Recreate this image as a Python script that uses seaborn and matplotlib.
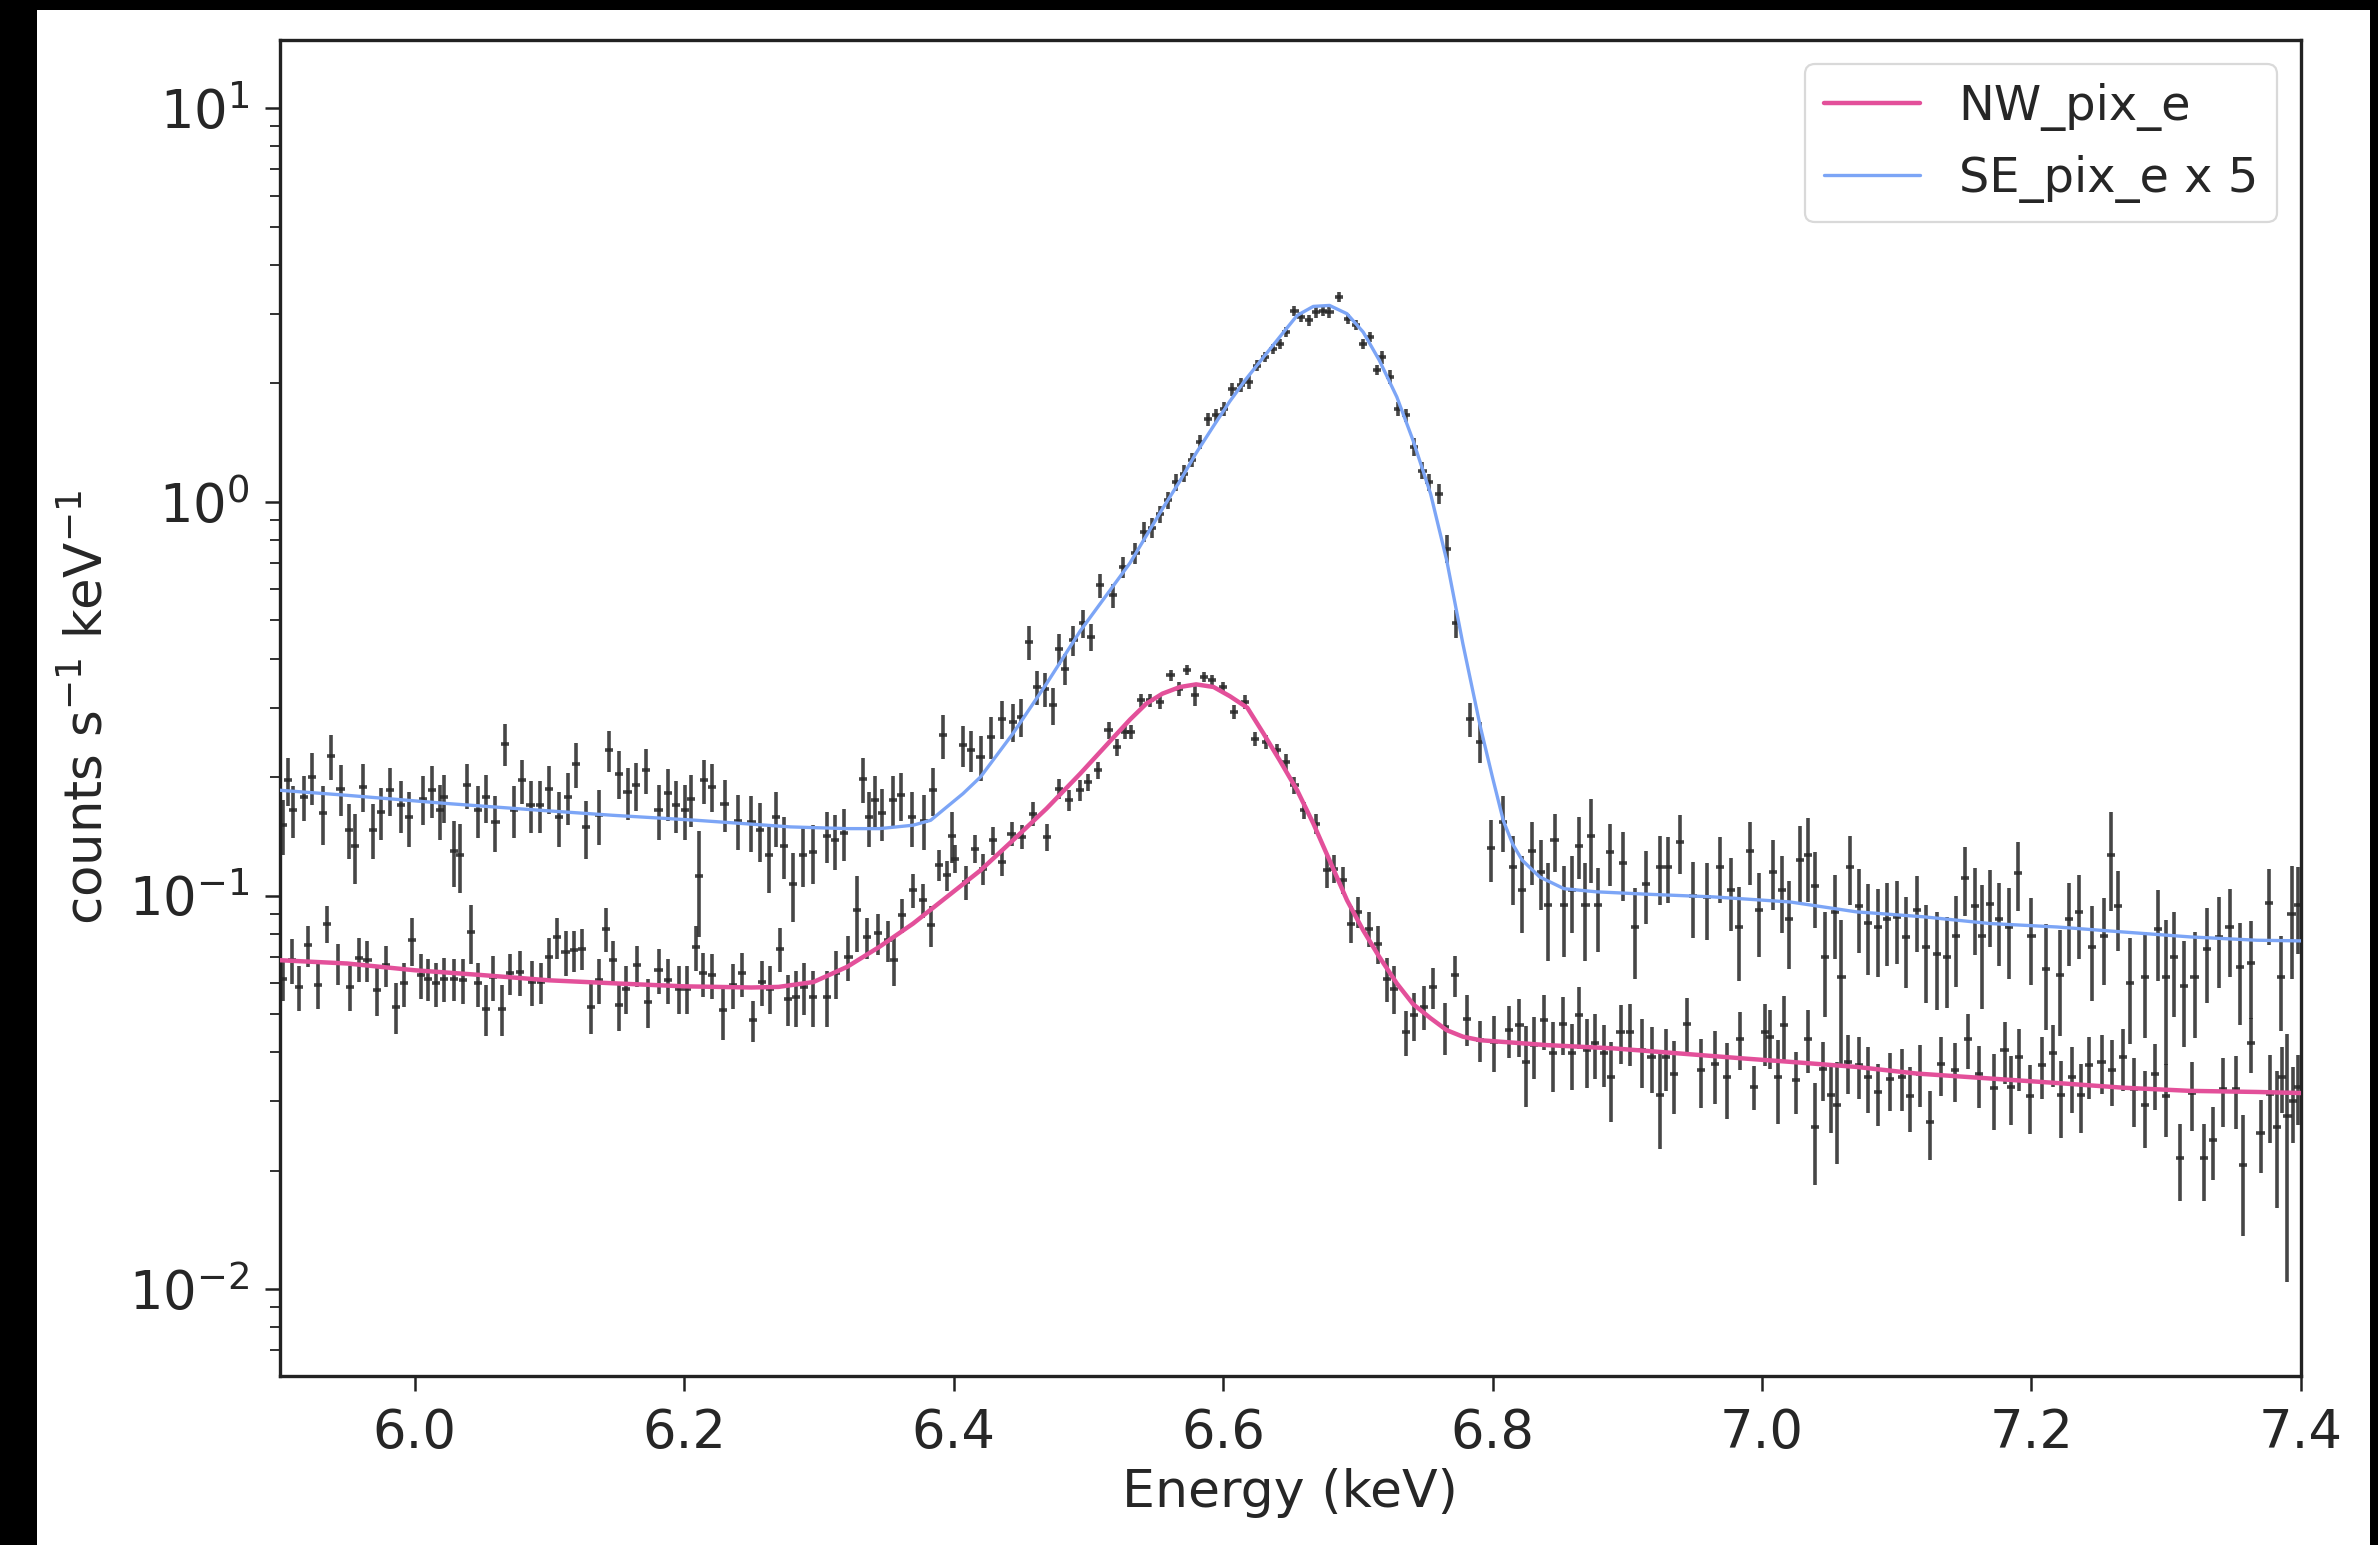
import numpy as np
import pandas as pd
import seaborn as sns
import matplotlib.pyplot as plt
from matplotlib.patches import Rectangle

# ---- data ----
LABEL_NW = "NW_pix_e"
LABEL_SE = "SE_pix_e x 5"
BIN_HALF = 0.003  # keV, half width of a spectral bin

se_energy = [
    5.902, 5.906, 5.910, 5.918, 5.924, 5.932, 5.938, 5.945, 5.951, 5.956,
    5.962, 5.969, 5.975, 5.982, 5.990, 5.996, 6.006, 6.013, 6.019, 6.022,
    6.029, 6.034, 6.039, 6.047, 6.053, 6.060, 6.067, 6.074, 6.080, 6.086,
    6.093, 6.100, 6.107, 6.114, 6.120, 6.127, 6.137, 6.144, 6.152, 6.158,
    6.164, 6.172, 6.181, 6.188, 6.194, 6.201, 6.205, 6.211, 6.215, 6.221,
    6.230, 6.240, 6.250, 6.256, 6.263, 6.268, 6.274,
    6.281, 6.288, 6.296, 6.306, 6.312, 6.319, 6.328, 6.333, 6.337, 6.342,
    6.347, 6.355, 6.361, 6.369, 6.378, 6.385, 6.392, 6.399, 6.407, 6.413,
    6.420, 6.428, 6.436, 6.444, 6.450, 6.456, 6.462, 6.468, 6.474, 6.478,
    6.483, 6.489, 6.496, 6.502, 6.509, 6.518, 6.526,
    6.535, 6.541, 6.547, 6.553, 6.559, 6.565, 6.571, 6.577, 6.583, 6.589,
    6.595, 6.601, 6.607, 6.613, 6.619, 6.625, 6.631, 6.637,
    6.642, 6.647, 6.653, 6.658, 6.664, 6.669, 6.674, 6.679, 6.686, 6.693,
    6.699, 6.704, 6.709, 6.714, 6.718, 6.724, 6.730, 6.736, 6.742, 6.748,
    6.753, 6.760, 6.766, 6.773, 6.783, 6.791,
    6.799, 6.808, 6.815, 6.822, 6.829, 6.836, 6.841, 6.846, 6.853, 6.859,
    6.864, 6.869, 6.873, 6.878, 6.887, 6.897, 6.906, 6.914, 6.924, 6.930,
    6.939, 6.949, 6.959, 6.969, 6.977, 6.983, 6.991, 6.998, 7.008, 7.015,
    7.020,
    7.028, 7.034, 7.039, 7.047, 7.054, 7.059, 7.065, 7.072, 7.079, 7.086,
    7.093, 7.100, 7.107, 7.115, 7.122, 7.130, 7.137, 7.144, 7.151, 7.158,
    7.163, 7.169, 7.176, 7.183, 7.190, 7.200, 7.211, 7.221, 7.228, 7.235,
    7.245, 7.254, 7.259, 7.264, 7.273, 7.284, 7.294, 7.300, 7.306, 7.313,
    7.321, 7.330, 7.339, 7.347, 7.355, 7.363, 7.376, 7.385, 7.393, 7.398,
]
se_rate = [
    0.151, 0.196, 0.165, 0.178, 0.200, 0.162, 0.226, 0.187, 0.147, 0.134,
    0.189, 0.147, 0.163, 0.185, 0.170, 0.158, 0.176, 0.185, 0.165, 0.178,
    0.130, 0.127, 0.191, 0.165, 0.178, 0.154, 0.243, 0.165, 0.196, 0.170,
    0.170, 0.187, 0.158, 0.178, 0.216, 0.149, 0.160, 0.234, 0.204, 0.183,
    0.191, 0.208, 0.165, 0.182, 0.170, 0.165, 0.176, 0.112, 0.196, 0.189,
    0.171, 0.155, 0.154, 0.147, 0.127, 0.158, 0.134,
    0.107, 0.127, 0.129, 0.142, 0.138, 0.144, 0.092, 0.198, 0.158, 0.175,
    0.162, 0.175, 0.180, 0.158, 0.155, 0.185, 0.255, 0.142, 0.241, 0.234,
    0.225, 0.253, 0.281, 0.276, 0.284, 0.441, 0.339, 0.335, 0.304, 0.424,
    0.377, 0.445, 0.491, 0.454, 0.614, 0.579, 0.683,
    0.74, 0.84, 0.86, 0.93, 1.01, 1.12, 1.18, 1.28, 1.42, 1.62,
    1.66, 1.72, 1.93, 1.98, 2.02, 2.22, 2.33, 2.45,
    2.52, 2.70, 3.06, 2.95, 2.89, 3.03, 3.06, 3.03, 3.31, 2.92,
    2.81, 2.52, 2.62, 2.16, 2.33, 2.08, 1.72, 1.66, 1.38, 1.20,
    1.12, 1.05, 0.761, 0.491, 0.281, 0.246,
    0.132, 0.154, 0.118, 0.103, 0.130, 0.115, 0.0945, 0.138, 0.0945, 0.103,
    0.134, 0.0945, 0.142, 0.0945, 0.129, 0.121, 0.083, 0.107, 0.118, 0.118,
    0.137, 0.100, 0.099, 0.118, 0.103, 0.083, 0.130, 0.092, 0.115, 0.103,
    0.087,
    0.123, 0.127, 0.106, 0.070, 0.091, 0.062, 0.118, 0.094, 0.085, 0.083,
    0.087, 0.088, 0.0785, 0.092, 0.074, 0.071, 0.070, 0.079, 0.111, 0.094,
    0.079, 0.095, 0.087, 0.083, 0.114, 0.079, 0.065, 0.063, 0.087, 0.091,
    0.074, 0.079, 0.127, 0.094, 0.060, 0.062, 0.082, 0.062, 0.070, 0.059,
    0.062, 0.073, 0.0785, 0.083, 0.066, 0.0675, 0.096, 0.062, 0.090, 0.0945,
]
# 1-sigma errors in percent of the rate
se_err_pct = [
    16, 14, 15, 13, 15, 17, 13, 15, 16, 20, 14, 16, 15, 14, 15, 16, 14, 15, 16, 14,
    19, 20, 13, 15, 14, 16, 12, 15, 13, 15, 15, 14, 16, 15, 13, 17, 16, 12, 14, 15,
    14, 13, 16, 15, 15, 16, 15, 30, 13, 14, 15, 16, 16, 17, 20, 16, 18,
    20, 17, 17, 15, 16, 15, 22, 13, 16, 15, 15, 15, 14, 16, 16, 14, 13, 15, 12, 12,
    13, 12, 11, 11, 11, 10, 10, 10, 11, 9, 9, 9, 8, 8, 7, 7, 6,
    6, 6, 6, 5, 5, 5, 5, 4, 4, 4, 4, 4, 4, 4, 4, 3, 3, 3,
    3, 3, 3, 3, 3, 3, 3, 3, 3, 3, 3, 3, 3, 3, 4, 4, 4, 4, 5, 5, 5, 6, 8, 8, 10, 12,
    18, 16, 20, 22, 18, 20, 28, 17, 26, 22, 18, 28, 24, 24, 18, 20, 26, 21, 20, 19,
    17, 22, 22, 19, 21, 27, 18, 24, 20, 22, 25,
    22, 24, 22, 30, 24, 40, 20, 24, 26, 25, 24, 24, 26, 22, 28, 28, 26, 26, 20, 25,
    35, 22, 24, 26, 20, 25, 30, 30, 24, 24, 27, 25, 28, 23, 30, 30, 26, 40, 30, 30,
    30, 27, 26, 25, 29, 28, 22, 27, 32, 25,
]

nw_energy = [
    5.902, 5.909, 5.914, 5.921, 5.928, 5.935, 5.943, 5.952, 5.959, 5.965,
    5.972, 5.979, 5.986, 5.992, 5.998, 6.005, 6.010, 6.016, 6.022, 6.029,
    6.036, 6.042, 6.047, 6.053, 6.058, 6.065, 6.071, 6.078, 6.087, 6.094,
    6.100, 6.106, 6.112, 6.118, 6.124, 6.131, 6.137, 6.142, 6.147, 6.152,
    6.157, 6.165, 6.173, 6.181, 6.188, 6.196, 6.202, 6.209, 6.214, 6.221,
    6.229, 6.236, 6.243, 6.251, 6.258, 6.264, 6.271, 6.277,
    6.283, 6.289, 6.296, 6.306, 6.313, 6.322, 6.336, 6.344, 6.351, 6.356,
    6.362, 6.370, 6.377, 6.383, 6.389, 6.395, 6.401, 6.409, 6.416, 6.422,
    6.429, 6.436, 6.443, 6.451, 6.459, 6.469, 6.478, 6.486, 6.494, 6.500,
    6.507, 6.515, 6.521, 6.527, 6.532, 6.539, 6.546, 6.553, 6.561, 6.567,
    6.573, 6.579, 6.586, 6.592, 6.600, 6.608, 6.616, 6.624, 6.632, 6.640,
    6.647,
    6.653, 6.660, 6.669, 6.677, 6.682, 6.689, 6.695, 6.700, 6.708, 6.715,
    6.722, 6.727, 6.736, 6.742, 6.749, 6.756, 6.765, 6.772, 6.781, 6.791,
    6.801, 6.812, 6.820, 6.825, 6.831, 6.838, 6.845, 6.852, 6.859, 6.864,
    6.870, 6.876, 6.883, 6.888, 6.895, 6.902, 6.911, 6.918, 6.924, 6.929,
    6.935, 6.944, 6.955, 6.965, 6.974, 6.984, 6.994, 7.002, 7.006, 7.012,
    7.016,
    7.025, 7.034, 7.039, 7.045, 7.051, 7.056, 7.064, 7.072, 7.079, 7.086,
    7.095, 7.104, 7.110, 7.117, 7.125, 7.133, 7.143, 7.153, 7.161, 7.172,
    7.180, 7.185, 7.191, 7.199, 7.208, 7.216, 7.222, 7.230, 7.237, 7.243,
    7.252, 7.260, 7.268, 7.276, 7.284, 7.292, 7.300, 7.310, 7.319, 7.328,
    7.335, 7.342, 7.352, 7.357, 7.363, 7.370, 7.377, 7.382, 7.386, 7.390,
    7.394, 7.398,
]
nw_rate = [
    0.0615, 0.0685, 0.0586, 0.0748, 0.0592, 0.0849, 0.0672, 0.0586, 0.0692, 0.0685,
    0.0575, 0.0665, 0.0522, 0.0598, 0.0770, 0.0628, 0.0615, 0.0598, 0.0615, 0.0615,
    0.0609, 0.0808, 0.0598, 0.0516, 0.0621, 0.0516, 0.0634, 0.0640, 0.0603, 0.0603,
    0.0698, 0.0785, 0.0719, 0.0726, 0.0733, 0.0522, 0.0609, 0.0824, 0.0685, 0.0527,
    0.0580, 0.0665, 0.0537, 0.0646, 0.0609, 0.0580, 0.0580, 0.0741, 0.0634, 0.0628,
    0.0511, 0.0592, 0.0634, 0.0482, 0.0603, 0.0580, 0.0733, 0.0547,
    0.0553, 0.0586, 0.0553, 0.0553, 0.0634, 0.0698, 0.0785, 0.0801, 0.0770, 0.0685,
    0.0891, 0.1031, 0.0973, 0.0840, 0.1194, 0.1126, 0.1241, 0.1083, 0.1316, 0.1171,
    0.1381, 0.1217, 0.1437, 0.1408, 0.1615, 0.1408, 0.1869, 0.1746, 0.1851, 0.1943,
    0.2080, 0.2629, 0.2384, 0.2603, 0.2603, 0.3133, 0.3133, 0.3102, 0.3626, 0.3353,
    0.3734, 0.3226, 0.3590, 0.3522, 0.3386, 0.2926, 0.3102, 0.2503, 0.2455, 0.2338,
    0.2184,
    0.1906, 0.1647, 0.1524, 0.1159, 0.1171, 0.1094, 0.0849, 0.0909, 0.0824, 0.0755,
    0.0615, 0.0580, 0.0450, 0.0497, 0.0522, 0.0586, 0.0464, 0.0628, 0.0487, 0.0429,
    0.0425, 0.0455, 0.0468, 0.0378, 0.0417, 0.0483, 0.0397, 0.0473, 0.0397, 0.0497,
    0.0405, 0.0421, 0.0397, 0.0346, 0.0450, 0.0450, 0.0405, 0.0389, 0.0311, 0.0389,
    0.0353, 0.0473, 0.0360, 0.0374, 0.0346, 0.0433, 0.0327, 0.0450, 0.0438, 0.0346,
    0.0468,
    0.0340, 0.0433, 0.0259, 0.0363, 0.0311, 0.0293, 0.0378, 0.0371, 0.0346, 0.0317,
    0.0341, 0.0346, 0.0309, 0.0353, 0.0266, 0.0374, 0.0361, 0.0431, 0.0352, 0.0325,
    0.0405, 0.0326, 0.0388, 0.0309, 0.0371, 0.0397, 0.0311, 0.0346, 0.0311, 0.0371,
    0.0378, 0.0361, 0.0388, 0.0323, 0.0293, 0.0353, 0.0309, 0.0215, 0.0315, 0.0215,
    0.0240, 0.0323, 0.0323, 0.0207, 0.0422, 0.0250, 0.0314, 0.0259, 0.0346, 0.0275,
    0.0301, 0.0327,
]
nw_err_pct = [
    12, 13, 13, 12, 13, 11, 12, 13, 13, 12, 14, 12, 15, 13, 14, 13, 12, 13, 13, 12,
    13, 17, 13, 15, 13, 15, 12, 13, 13, 12, 12, 12, 13, 12, 12, 15, 13, 13, 12, 14,
    14, 12, 14, 13, 13, 14, 14, 13, 13, 13, 16, 13, 13, 12, 13, 14, 13, 15,
    16, 15, 16, 16, 14, 13, 12, 12, 12, 14, 10, 10, 10, 12, 9, 9, 8, 10, 8, 9,
    8, 8, 7, 7, 7, 8, 6, 6, 6, 5, 5, 5, 5, 4, 4, 4, 4, 4, 3, 4,
    3, 6, 3, 3, 3, 4, 4, 4, 4, 4, 5,
    5, 5, 6, 10, 8, 8, 11, 9, 10, 11, 13, 14, 13, 14, 13, 12, 15, 12, 15, 12,
    16, 15, 17, 23, 18, 16, 20, 17, 19, 18, 20, 19, 18, 23, 17, 18, 20, 19, 27, 18,
    21, 16, 20, 21, 22, 17, 13, 18, 17, 24, 19,
    18, 18, 29, 17, 20, 29, 17, 18, 19, 18, 17, 18, 19, 18, 20, 17, 17, 16, 18, 22,
    18, 20, 18, 20, 18, 18, 22, 19, 20, 18, 17, 19, 18, 20, 22, 19, 21, 22, 20, 22,
    21, 20, 21, 34, 16, 21, 25, 38, 19, 62, 22, 20,
]

# fitted model curves
nw_model_energy = [
    5.900, 5.950, 6.000, 6.050, 6.100, 6.150, 6.200, 6.250, 6.270, 6.296,
    6.321, 6.345, 6.370, 6.395, 6.420, 6.444, 6.469, 6.494, 6.519, 6.531,
    6.543, 6.555, 6.568, 6.580, 6.593, 6.605, 6.618, 6.630, 6.642, 6.655,
    6.667, 6.679, 6.692, 6.704, 6.716, 6.729, 6.741, 6.754, 6.766, 6.778,
    6.791, 6.840, 6.890, 6.939, 6.989, 7.021, 7.070, 7.115, 7.169, 7.219,
    7.268, 7.318, 7.367, 7.400,
]
nw_model_rate = [
    0.0685, 0.0672, 0.0646, 0.0628, 0.0609, 0.0598, 0.0588, 0.0584, 0.0586, 0.0603,
    0.0659, 0.0741, 0.0849, 0.0992, 0.1159, 0.1381, 0.1663, 0.2040, 0.2528, 0.2800,
    0.3071, 0.3257, 0.3386, 0.3439, 0.3386, 0.3210, 0.3000, 0.2580, 0.2206, 0.1851,
    0.1524, 0.1229, 0.0973, 0.0816, 0.0698, 0.0598, 0.0530, 0.0488, 0.0455, 0.0438,
    0.0429, 0.0417, 0.0409, 0.0397, 0.0385, 0.0378, 0.0367, 0.0353, 0.0343, 0.0334,
    0.0325, 0.0319, 0.0317, 0.0315,
]
se_model_energy = [
    5.900, 5.950, 6.024, 6.086, 6.147, 6.209, 6.279, 6.321, 6.345, 6.370,
    6.383, 6.395, 6.407, 6.420, 6.444, 6.469, 6.494, 6.519, 6.531, 6.543,
    6.555, 6.568, 6.580, 6.593, 6.605, 6.617, 6.630, 6.642, 6.655, 6.667,
    6.679, 6.692, 6.704, 6.716, 6.729, 6.741, 6.754, 6.766, 6.778, 6.791,
    6.800, 6.808, 6.815, 6.822, 6.835, 6.853, 6.877, 6.914, 6.964, 7.021,
    7.070, 7.120, 7.169, 7.219, 7.268, 7.318, 7.367, 7.400,
]
se_model_rate = [
    0.1851, 0.1797, 0.1713, 0.1653, 0.1599, 0.1553, 0.1494, 0.1479, 0.1479, 0.1509,
    0.1553, 0.1679, 0.1815, 0.2001, 0.2578, 0.3453, 0.4700, 0.6150, 0.7000, 0.8200,
    0.9600, 1.130, 1.330, 1.560, 1.800, 2.050, 2.330, 2.622, 2.976, 3.137,
    3.155, 3.005, 2.700, 2.288, 1.846, 1.433, 1.049, 0.710, 0.436, 0.268,
    0.1995, 0.155, 0.135, 0.123, 0.1115, 0.1041, 0.1022, 0.1008, 0.0992, 0.0963,
    0.0909, 0.0883, 0.0849, 0.0832, 0.0808, 0.0785, 0.0770, 0.0767,
]

PINK = "#e3509a"
BLUE = "#7ca5f6"
BAR = "#262626"


def main():
    sns.set_style("ticks")
    plt.rcParams["font.family"] = ["DejaVu Sans"]
    plt.rcParams["mathtext.fontset"] = "dejavusans"

    fig = plt.figure(figsize=(23.78, 15.45), dpi=100)
    fig.patch.set_facecolor("black")
    # white page inside the black screenshot frame
    fig.add_artist(Rectangle((37 / 2378, 0), (2370 - 37) / 2378, (1545 - 10) / 1545,
                             transform=fig.transFigure, facecolor="white",
                             edgecolor="none", zorder=-5))
    ax = fig.add_axes([0.1177, 0.1094, 0.8499, 0.8647])
    ax.set_facecolor("white")

    spectra = [
        (se_energy, se_rate, se_err_pct),
        (nw_energy, nw_rate, nw_err_pct),
    ]
    for energy, rate, pct in spectra:
        e = np.asarray(energy)
        r = np.asarray(rate)
        err = r * np.asarray(pct) / 100.0
        ax.errorbar(e, r, yerr=err, xerr=BIN_HALF, fmt="none", ecolor=BAR,
                    elinewidth=2.6, alpha=0.85, zorder=2)

    nw_model = pd.DataFrame({"energy": nw_model_energy, "rate": nw_model_rate})
    se_model = pd.DataFrame({"energy": se_model_energy, "rate": se_model_rate})
    sns.lineplot(data=nw_model, x="energy", y="rate", ax=ax, color=PINK,
                 linewidth=3.2, label=LABEL_NW, estimator=None, sort=False, zorder=3)
    sns.lineplot(data=se_model, x="energy", y="rate", ax=ax, color=BLUE,
                 linewidth=2.4, label=LABEL_SE, estimator=None, sort=False, zorder=3)

    ax.set_yscale("log")
    ax.set_xlim(5.9, 7.4)
    ax.set_ylim(0.00602, 14.9)
    ax.set_xticks([6.0, 6.2, 6.4, 6.6, 6.8, 7.0, 7.2, 7.4])
    ax.set_xticklabels(["6.0", "6.2", "6.4", "6.6", "6.8", "7.0", "7.2", "7.4"])

    ax.set_xlabel("Energy (keV)", fontsize=37.5, labelpad=7)
    ax.set_ylabel("counts s$^{-1}$ keV$^{-1}$", fontsize=37, labelpad=11)

    for side in ["top", "right", "bottom", "left"]:
        ax.spines[side].set_visible(True)
        ax.spines[side].set_linewidth(2.4)
        ax.spines[side].set_color("#222222")
    ax.tick_params(axis="both", which="major", direction="out", length=11,
                   width=1.8, labelsize=38, pad=11, color="#222222")
    ax.tick_params(axis="y", which="minor", direction="out", length=7,
                   width=1.3, color="#222222")

    leg = ax.legend(loc="upper right", fontsize=34.5, frameon=True, fancybox=True,
                    borderaxespad=0.5)
    leg.get_frame().set_edgecolor("#d0d0d0")
    leg.get_frame().set_linewidth(1.6)

    fig.savefig("out.png", dpi=100, facecolor=fig.get_facecolor())
    plt.close(fig)


if __name__ == "__main__":
    main()
